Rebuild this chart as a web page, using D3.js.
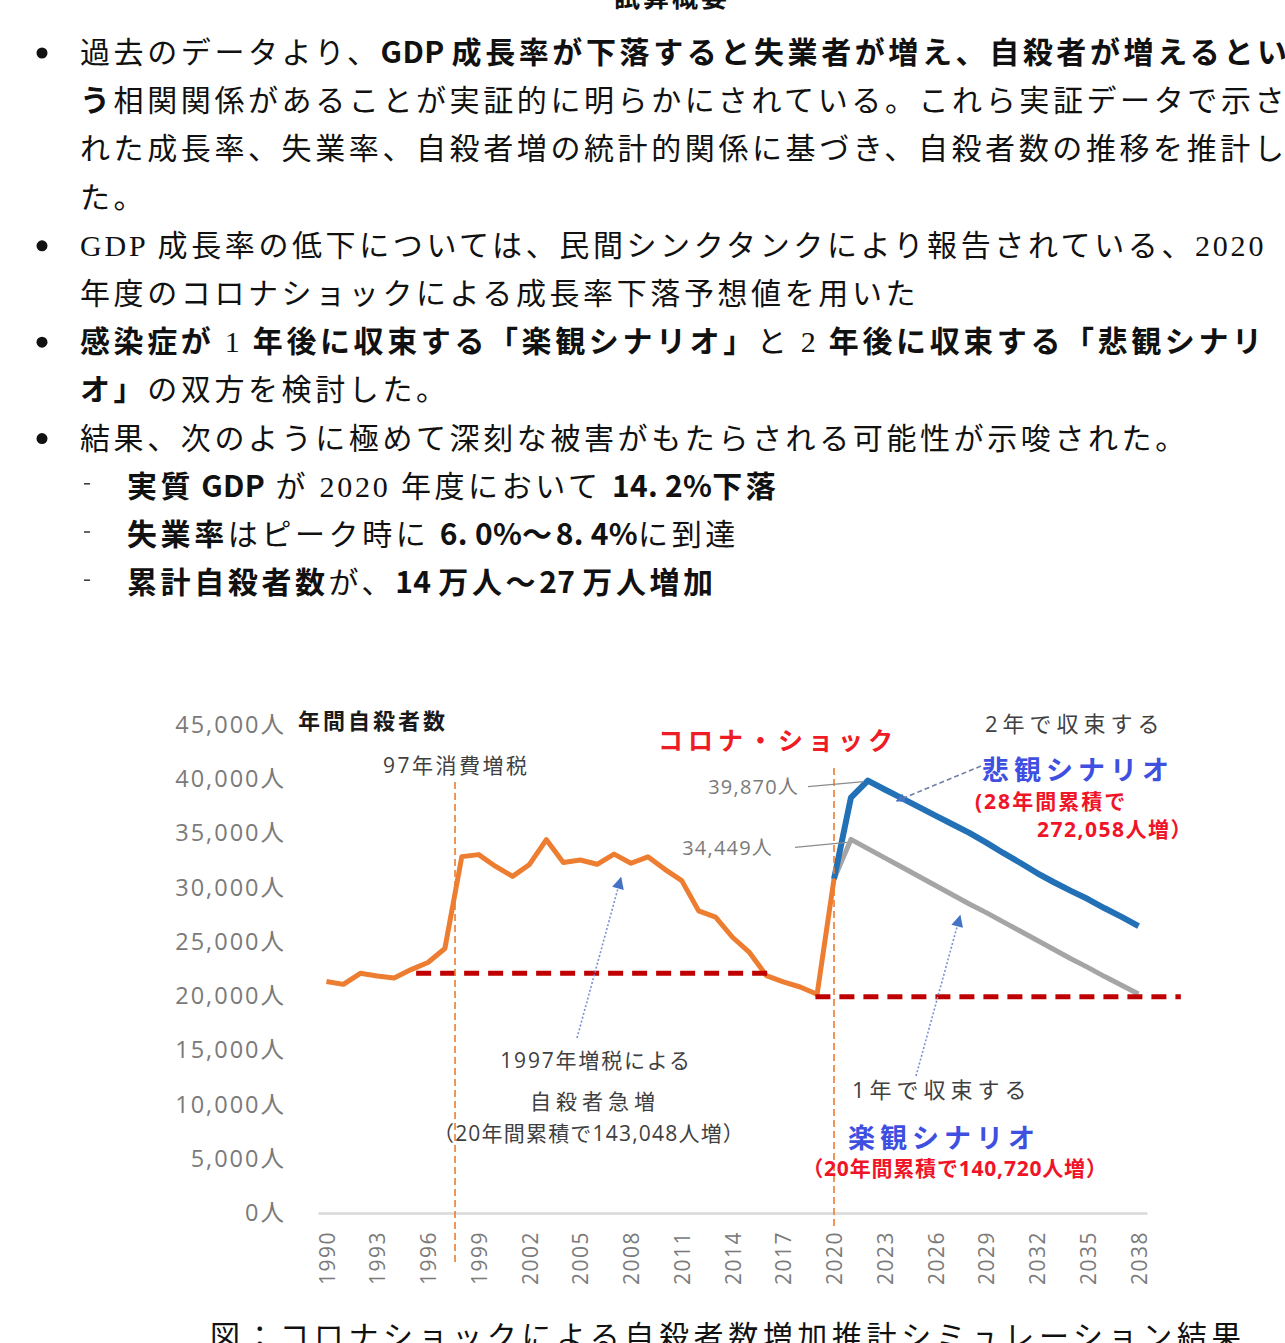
<!DOCTYPE html>
<html lang="ja">
<head>
<meta charset="utf-8">
<script src="https://cdn.jsdelivr.net/npm/d3@7"></script>
<style>
  body { margin: 0; background: #fff; }
  svg { display: block; }
</style>
</head>
<body>
<svg id="page" width="1285" height="1343"></svg>
<script>
// 年間自殺者数（実績 1990-2020）
const actualYears = [1990, 1991, 1992, 1993, 1994, 1995, 1996, 1997, 1998, 1999, 2000,
  2001, 2002, 2003, 2004, 2005, 2006, 2007, 2008, 2009, 2010,
  2011, 2012, 2013, 2014, 2015, 2016, 2017, 2018, 2019, 2020];
const actualCounts = [21346, 21084, 22104, 21851, 21679, 22445, 23104, 24391, 32863, 33048, 31957,
  31042, 32143, 34427, 32325, 32552, 32155, 33093, 32249, 32845, 31690,
  30651, 27858, 27283, 25427, 24025, 21897, 21321, 20840, 20169, 30800];

// 推計（2020-2038）
const scenarioYears = [2020, 2021, 2022, 2023, 2024, 2025, 2026, 2027, 2028, 2029,
  2030, 2031, 2032, 2033, 2034, 2035, 2036, 2037, 2038];
const optimisticCounts = [30800, 34449, 33600, 32750, 31900, 31050, 30200, 29350, 28500, 27700,
  26850, 26000, 25150, 24300, 23450, 22650, 21800, 21000, 20200];
const pessimisticCounts = [30800, 38300, 39870, 39050, 38250, 37450, 36650, 35850, 35050, 34150,
  33200, 32300, 31350, 30500, 29700, 28950, 28100, 27300, 26450];

// 基準線（赤破線）
const refFrom = [1995.3, 2018.9];
const refTo = [2016.5, 2040.5];
const refValue = [22100, 19950];

// イベント縦線
const eventYears = [1997.6, 2020];

const tickYears = [1990, 1993, 1996, 1999, 2002, 2005, 2008, 2011, 2014, 2017, 2020,
  2023, 2026, 2029, 2032, 2035, 2038];
const yTicks = [0, 5000, 10000, 15000, 20000, 25000, 30000, 35000, 40000, 45000];

// 本文
const bodyLines = [
  { x: 80, bullet: 'dot', parts: [['過去のデータより、', 0], ['GDP 成長率が下落すると失業者が増え、自殺者が増えるとい', 1]] },
  { x: 80, parts: [['う', 1], ['相関関係があることが実証的に明らかにされている。これら実証データで示さ', 0]] },
  { x: 80, parts: [['れた成長率、失業率、自殺者増の統計的関係に基づき、自殺者数の推移を推計し', 0]] },
  { x: 80, parts: [['た。', 0]] },
  { x: 80, bullet: 'dot', parts: [['GDP 成長率の低下については、民間シンクタンクにより報告されている、2020', 0]] },
  { x: 80, parts: [['年度のコロナショックによる成長率下落予想値を用いた', 0]] },
  { x: 80, bullet: 'dot', parts: [['感染症が', 1], [' 1 ', 0], ['年後に収束する「楽観シナリオ」', 1], ['と 2 ', 0], ['年後に収束する「悲観シナリ', 1]] },
  { x: 80, parts: [['オ」', 1], ['の双方を検討した。', 0]] },
  { x: 80, bullet: 'dot', parts: [['結果、次のように極めて深刻な被害がもたらされる可能性が示唆された。', 0]] },
  { x: 127, bullet: 'dash', parts: [['実質 GDP', 1], [' が 2020 年度において ', 0], ['14. 2%下落', 1]] },
  { x: 127, bullet: 'dash', parts: [['失業率', 1], ['はピーク時に ', 0], ['6. 0%～8. 4%', 1], ['に到達', 0]] },
  { x: 127, bullet: 'dash', parts: [['累計自殺者数', 1], ['が、', 0], ['14 万人～27 万人増加', 1]] }
];

const svg = d3.select('#page');
const serifFont = '"Liberation Serif", "Noto Sans CJK JP", serif';
const sansFont = '"Noto Sans CJK JP", sans-serif';
const chartFont = '"Open Sans", "Noto Sans CJK JP", sans-serif';

// 見出し（上端で切れている）
svg.append('text')
  .attr('x', 672).attr('y', 7)
  .attr('text-anchor', 'middle')
  .attr('font-family', sansFont)
  .attr('font-weight', 700)
  .attr('font-size', 26)
  .attr('letter-spacing', 3)
  .attr('fill', '#111')
  .text('試算概要');

bodyLines.forEach((line, i) => {
  const baseY = 63 + i * 48.2;
  if (line.bullet === 'dot') {
    svg.append('circle').attr('cx', 42).attr('cy', baseY - 10).attr('r', 5.5).attr('fill', '#111');
  } else if (line.bullet === 'dash') {
    svg.append('line')
      .attr('x1', 84).attr('x2', 90)
      .attr('y1', baseY - 13).attr('y2', baseY - 13)
      .attr('stroke', '#333').attr('stroke-width', 1.5);
  }
  const t = svg.append('text')
    .attr('x', line.x).attr('y', baseY)
    .attr('font-size', 30)
    .attr('fill', '#111')
    .style('white-space', 'pre');
  line.parts.forEach(([str, bold]) => {
    // 半角（英数字）と全角で字間を分ける
    const runs = str.match(/[\x20-\x7e]+|[^\x20-\x7e]+/g);
    runs.forEach(run => {
      const latin = /^[\x20-\x7e]+$/.test(run);
      t.append('tspan')
        .attr('font-family', bold ? sansFont : serifFont)
        .attr('font-weight', bold ? 700 : 400)
        .attr('letter-spacing', latin ? (bold ? 0.3 : 2.8) : 3.6)
        .text(run);
    });
  });
});

// 図の説明（下端で切れている）
svg.append('text')
  .attr('x', 728).attr('y', 1347)
  .attr('text-anchor', 'middle')
  .attr('font-family', sansFont)
  .attr('font-size', 30)
  .attr('letter-spacing', 4.6)
  .attr('fill', '#111')
  .text('図：コロナショックによる自殺者数増加推計シミュレーション結果');

// ---- chart ----
const x = d3.scaleLinear().domain([1989.5, 2038.5]).range([318, 1147]);
const y = d3.scaleLinear().domain([0, 45000]).range([1213, 725]);

const defs = svg.append('defs');
defs.append('marker')
  .attr('id', 'arrowBlue')
  .attr('viewBox', '0 0 10 10')
  .attr('refX', 9).attr('refY', 5)
  .attr('markerWidth', 9).attr('markerHeight', 9)
  .attr('markerUnits', 'userSpaceOnUse')
  .attr('orient', 'auto')
  .append('path')
  .attr('d', 'M0,0 L10,5 L0,10 Z')
  .attr('fill', '#4472c4');
defs.append('marker')
  .attr('id', 'arrowBlueBig')
  .attr('viewBox', '0 0 10 10')
  .attr('refX', 9).attr('refY', 5)
  .attr('markerWidth', 14).attr('markerHeight', 12)
  .attr('markerUnits', 'userSpaceOnUse')
  .attr('orient', 'auto')
  .append('path')
  .attr('d', 'M0,0 L10,5 L0,10 Z')
  .attr('fill', '#4472c4');

// x軸
const xAxis = svg.append('g')
  .attr('transform', `translate(0,${y(0)})`)
  .call(d3.axisBottom(x).tickValues(tickYears).tickSize(0).tickSizeOuter(0).tickFormat(d3.format('d')));
xAxis.select('.domain').attr('stroke', '#d9d9d9').attr('stroke-width', 2.5);
xAxis.selectAll('text')
  .attr('transform', 'rotate(-90)')
  .attr('text-anchor', 'end')
  .attr('x', -18)
  .attr('y', 0)
  .attr('dy', '0.36em')
  .attr('font-family', chartFont)
  .attr('font-size', 21)
  .attr('letter-spacing', 1.5)
  .attr('fill', '#7a7a7a');

// y軸
const yAxis = svg.append('g')
  .attr('transform', 'translate(289,0)')
  .call(d3.axisLeft(y).tickValues(yTicks).tickSize(0).tickFormat(d => d3.format(',')(d) + '人'));
yAxis.select('.domain').remove();
yAxis.selectAll('text')
  .attr('font-family', chartFont)
  .attr('font-size', 23.5)
  .attr('letter-spacing', 2)
  .attr('fill', '#7a7a7a');

const line = d3.line().x(d => x(d[0])).y(d => y(d[1]));

svg.append('path')
  .datum(actualYears.map((yr, i) => [yr, actualCounts[i]]))
  .attr('d', line)
  .attr('fill', 'none')
  .attr('stroke', '#ed7d31')
  .attr('stroke-width', 5)
  .attr('stroke-linejoin', 'round');

svg.append('path')
  .datum(scenarioYears.map((yr, i) => [yr, optimisticCounts[i]]))
  .attr('d', line)
  .attr('fill', 'none')
  .attr('stroke', '#a5a5a5')
  .attr('stroke-width', 5)
  .attr('stroke-linejoin', 'round');

svg.append('path')
  .datum(scenarioYears.map((yr, i) => [yr, pessimisticCounts[i]]))
  .attr('d', line)
  .attr('fill', 'none')
  .attr('stroke', '#2270b5')
  .attr('stroke-width', 6)
  .attr('stroke-linejoin', 'round');

// 基準線
svg.selectAll('.ref-line')
  .data(refValue)
  .enter()
  .append('line')
  .attr('class', 'ref-line')
  .attr('x1', (d, i) => x(refFrom[i]))
  .attr('x2', (d, i) => x(refTo[i]))
  .attr('y1', d => y(d))
  .attr('y2', d => y(d))
  .attr('stroke', '#c00000')
  .attr('stroke-width', 5)
  .attr('stroke-dasharray', '15,9');

// イベント縦線
const eventTop = [782, 768];
const eventBottom = [1264, 1229];
svg.selectAll('.event-line')
  .data(eventYears)
  .enter()
  .append('line')
  .attr('class', 'event-line')
  .attr('x1', d => x(d))
  .attr('x2', d => x(d))
  .attr('y1', (d, i) => eventTop[i])
  .attr('y2', (d, i) => eventBottom[i])
  .attr('stroke', '#ed7d31')
  .attr('stroke-width', 1.6)
  .attr('stroke-dasharray', '7,4');

// ピーク値の引出線
const peakPess = [2022, 39870];
const peakOpt = [2021, 34449];
svg.append('line')
  .attr('x1', 808).attr('y1', y(peakPess[1]) + 6)
  .attr('x2', x(peakPess[0]) - 4).attr('y2', y(peakPess[1]) + 1)
  .attr('stroke', '#8c8c8c').attr('stroke-width', 1.3);
svg.append('line')
  .attr('x1', 795).attr('y1', y(peakOpt[1]) + 8)
  .attr('x2', x(peakOpt[0]) - 4).attr('y2', y(peakOpt[1]) + 3)
  .attr('stroke', '#8c8c8c').attr('stroke-width', 1.3);

// 注記の矢印
svg.append('line')
  .attr('x1', 577).attr('y1', 1038)
  .attr('x2', x(2007.4)).attr('y2', y(30900))
  .attr('stroke', '#7c8fd6').attr('stroke-width', 1.6)
  .attr('stroke-dasharray', '2,2')
  .attr('marker-end', 'url(#arrowBlueBig)');
svg.append('line')
  .attr('x1', 916).attr('y1', 1076)
  .attr('x2', x(2027.45)).attr('y2', y(27400))
  .attr('stroke', '#7c8fd6').attr('stroke-width', 1.6)
  .attr('stroke-dasharray', '2,2')
  .attr('marker-end', 'url(#arrowBlueBig)');
svg.append('line')
  .attr('x1', 981).attr('y1', 766)
  .attr('x2', x(2023.7)).attr('y2', y(38000))
  .attr('stroke', '#6f7fa6').attr('stroke-width', 1.6)
  .attr('stroke-dasharray', '5,3')
  .attr('marker-end', 'url(#arrowBlue)');

// 注記テキスト
const notes = [
  { t: '年間自殺者数', x: 298, y: 729, size: 22, w: 700, fill: '#1a1a1a', ls: 3, anchor: 'start' },
  { t: '97年消費増税', x: 383, y: 773, size: 21, w: 400, fill: '#404040', ls: 2.5, anchor: 'start' },
  { t: 'コロナ・ショック', x: 658, y: 750, size: 25, w: 700, fill: '#ee1c25', ls: 5, anchor: 'start' },
  { t: '39,870人', x: 799, y: 794, size: 20, w: 400, fill: '#7a7a7a', ls: 1.2, anchor: 'end' },
  { t: '34,449人', x: 773, y: 855, size: 20, w: 400, fill: '#7a7a7a', ls: 1.2, anchor: 'end' },
  { t: '2年で収束する', x: 985, y: 732, size: 22, w: 400, fill: '#404040', ls: 5, anchor: 'start' },
  { t: '悲観シナリオ', x: 982, y: 780, size: 27, w: 700, fill: '#3f4fe0', ls: 5, anchor: 'start' },
  { t: '(28年間累積で', x: 975, y: 809, size: 21, w: 700, fill: '#f01428', ls: 2, anchor: 'start' },
  { t: '272,058人増）', x: 1037, y: 837, size: 21, w: 700, fill: '#f01428', ls: 1.5, anchor: 'start' },
  { t: '1997年増税による', x: 596, y: 1068, size: 21, w: 400, fill: '#404040', ls: 1.8, anchor: 'middle' },
  { t: '自殺者急増', x: 595, y: 1109, size: 21, w: 400, fill: '#404040', ls: 5, anchor: 'middle' },
  { t: '（20年間累積で143,048人増）', x: 589, y: 1141, size: 21, w: 400, fill: '#404040', ls: 1.2, anchor: 'middle' },
  { t: '1年で収束する', x: 852, y: 1098, size: 22, w: 400, fill: '#404040', ls: 5, anchor: 'start' },
  { t: '楽観シナリオ', x: 848, y: 1148, size: 27, w: 700, fill: '#3f4fe0', ls: 5, anchor: 'start' },
  { t: '（20年間累積で140,720人増）', x: 955, y: 1176, size: 21, w: 700, fill: '#f01428', ls: 0.8, anchor: 'middle' }
];
svg.selectAll('.note')
  .data(notes)
  .enter()
  .append('text')
  .attr('class', 'note')
  .attr('x', d => d.x)
  .attr('y', d => d.y)
  .attr('text-anchor', d => d.anchor)
  .attr('font-family', chartFont)
  .attr('font-size', d => d.size)
  .attr('font-weight', d => d.w)
  .attr('letter-spacing', d => d.ls)
  .attr('fill', d => d.fill)
  .text(d => d.t);
</script>
</body>
</html>
